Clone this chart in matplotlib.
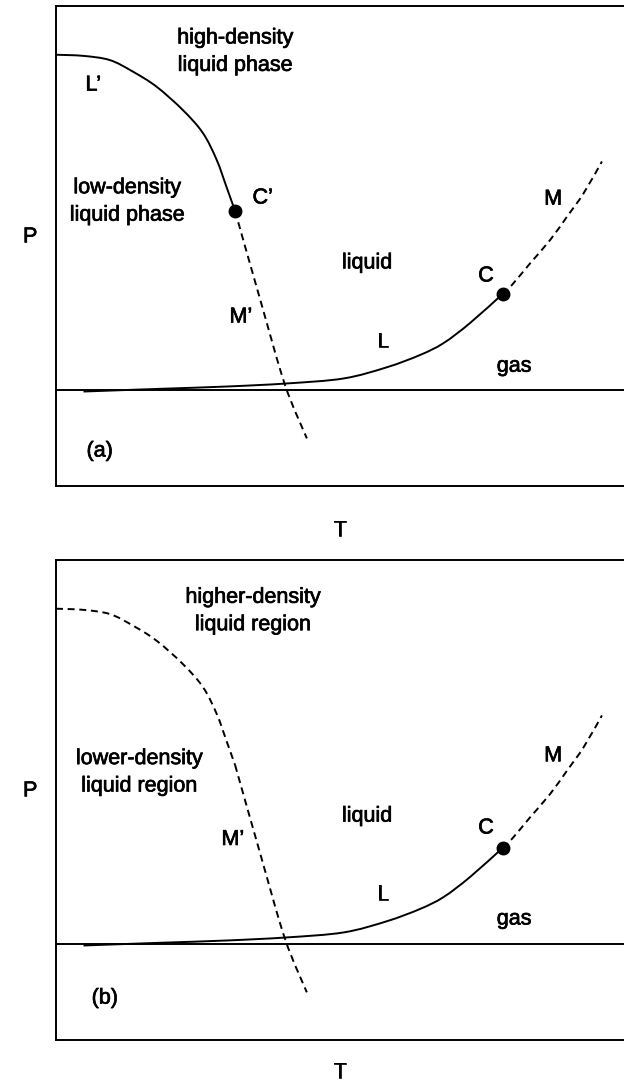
# -*- coding: utf-8 -*-

import matplotlib
matplotlib.use('Agg')
import matplotlib.pyplot as pyplot
import matplotlib.patches as patches
import matplotlib.patheffects as effects
from matplotlib.path import Path

# liquid-liquid line L' ending at C'
LP_T = [0.00, 0.48, 0.94, 1.34, 1.75, 2.21, 2.56, 2.80, 2.97, 3.12]
LP_P = [8.73, 8.70, 8.59, 8.29, 7.90, 7.29, 6.69, 5.99, 5.29, 4.66]

# continuation M' below C'
MP_T = [3.12, 3.56, 3.99, 4.37]
MP_P = [4.66, 2.34, 0.13, -1.26]

# liquid-gas line L ending at C
L_T = [0.48, 1.81, 2.97, 4.02, 5.01, 5.76, 6.34, 6.75, 7.21, 7.78]
L_P = [-0.04, 0.03, 0.09, 0.17, 0.30, 0.59, 0.91, 1.22, 1.74, 2.50]

# continuation M above C
M_T = [7.78, 7.94, 8.26, 8.61, 8.90, 9.19, 9.51]
M_P = [2.50, 2.73, 3.30, 3.91, 4.51, 5.12, 5.95]

C_POINT = (7.78, 2.50)
CP_POINT = (3.12, 4.66)

LABELS_A = [
    ('high-density\nliquid phase', 3.12, 8.81),
    ('low-density\nliquid phase', 1.24, 4.91),
    ('L\u2019', 0.65, 7.94),
    ('C\u2019', 3.60, 5.00),
    ('liquid', 5.42, 3.31),
    ('C', 7.49, 2.97),
    ('M', 8.66, 4.97),
    ('M\u2019', 3.22, 1.90),
    ('L', 5.70, 1.25),
    ('gas', 7.98, 0.62),
    ('(a)', 0.76, -1.59),
]

LABELS_B = [
    ('higher-density\nliquid region', 3.43, 8.67),
    ('lower-density\nliquid region', 1.45, 4.47),
    ('M\u2019', 3.08, 2.72),
    ('liquid', 5.42, 3.33),
    ('C', 7.49, 3.02),
    ('M', 8.66, 4.90),
    ('L', 5.70, 1.28),
    ('gas', 7.98, 0.65),
    ('(b)', 0.85, -1.41),
]

FONT = 'Liberation Sans'
FONT_SIZE = 15.5
LINE_W = 1.4
DASHES = (3.6, 2.4)
DOT_SIZE = 9
# scanned print looks a bit heavier than plain regular weight
TEXT_FX = [effects.withStroke(linewidth=0.5, foreground='black')]


def smooth_path(ts, ps):
    # Catmull-Rom through the read points, written as cubic Bezier segments
    pts = list(zip(ts, ps))
    verts = [pts[0]]
    codes = [Path.MOVETO]
    n = len(pts)
    for i in range(n - 1):
        p0 = pts[max(i - 1, 0)]
        p1 = pts[i]
        p2 = pts[i + 1]
        p3 = pts[min(i + 2, n - 1)]
        c1 = (p1[0] + (p2[0] - p0[0]) / 6.0, p1[1] + (p2[1] - p0[1]) / 6.0)
        c2 = (p2[0] - (p3[0] - p1[0]) / 6.0, p2[1] - (p3[1] - p1[1]) / 6.0)
        verts += [c1, c2, p2]
        codes += [Path.CURVE4] * 3
    return Path(verts, codes)


def add_curve(axs, ts, ps, dashed=False):
    ls = (0, DASHES) if dashed else '-'
    patch = patches.PathPatch(smooth_path(ts, ps), fill=False,
                              edgecolor='black', lw=LINE_W, ls=ls,
                              capstyle='butt')
    axs.add_patch(patch)


def put_text(axs, x, y, text, **kwargs):
    axs.text(x, y, text, ha='center', va='center', family=FONT,
             size=FONT_SIZE, path_effects=TEXT_FX, **kwargs)


def setup_axes(axs, t_label_y):
    axs.set_xlim(0, 10)
    axs.set_ylim(-2.5, 10)
    axs.set_xticks([])
    axs.set_yticks([])
    for sp in axs.spines.values():
        sp.set_linewidth(1.4)
    axs.axhline(0, color='black', lw=LINE_W)
    put_text(axs, -0.045, 0.519, 'P', transform=axs.transAxes)
    put_text(axs, 0.495, t_label_y, 'T', transform=axs.transAxes)


def draw_labels(axs, labels):
    for text, t, p in labels:
        put_text(axs, t, p, text, linespacing=1.4)


def draw_common(axs):
    add_curve(axs, L_T, L_P)
    add_curve(axs, M_T, M_P, dashed=True)
    add_curve(axs, MP_T, MP_P, dashed=True)
    axs.plot(*C_POINT, 'o', color='black', ms=DOT_SIZE)


fig = pyplot.figure(figsize=(6.24, 10.86), dpi=100)
ax_a = fig.add_axes([0.0897, 0.5525, 0.92, 0.442])
ax_b = fig.add_axes([0.0897, 0.0424, 0.92, 0.442])

# (a): L' is a real transition line ending at critical point C'
setup_axes(ax_a, -0.092)
draw_common(ax_a)
add_curve(ax_a, LP_T, LP_P)
ax_a.plot(*CP_POINT, 'o', color='black', ms=DOT_SIZE)
draw_labels(ax_a, LABELS_A)

# (b): only a dashed crossover line, no second critical point
setup_axes(ax_b, -0.067)
draw_common(ax_b)
add_curve(ax_b, LP_T, LP_P, dashed=True)
draw_labels(ax_b, LABELS_B)

fig.savefig('out.png', dpi=100)
pyplot.close(fig)
